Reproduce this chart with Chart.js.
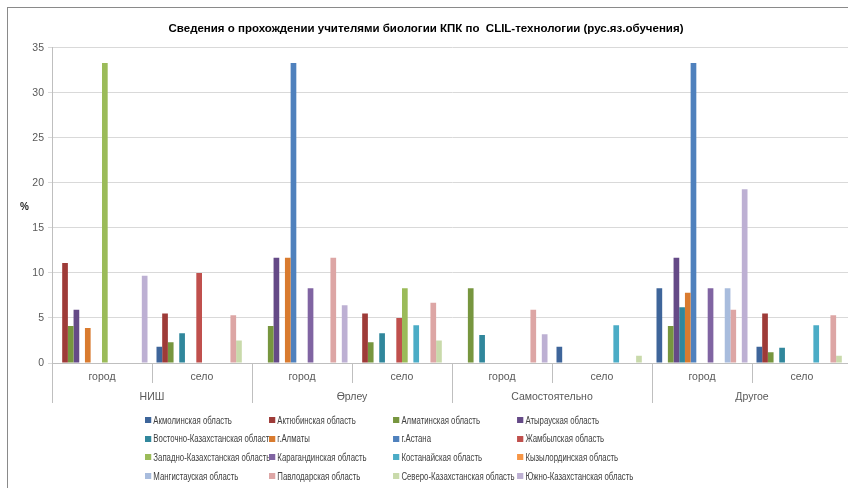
<!DOCTYPE html>
<html lang="ru">
  <head>
    <meta charset="UTF-8" />
    <title>CLIL-технологии</title>
    <script src="https://cdn.jsdelivr.net/npm/chart.js"></script>
    <style>
      body {
        margin: 0;
        width: 848px;
        height: 488px;
        overflow: hidden;
        background: #fff;
        position: relative;
        font-family: "Liberation Sans", sans-serif;
      }
      #frame {
        position: absolute;
        left: 7px;
        top: 7px;
        width: 900px;
        height: 600px;
        border-left: 1px solid #8a8a8a;
        border-top: 1px solid #8a8a8a;
      }
      #chart {
        position: absolute;
        left: 0;
        top: 0;
      }
      #ylabel {
        position: absolute;
        left: 20px;
        top: 201px;
        font-size: 10px;
        font-weight: bold;
        color: #262626;
      }
      /* узкий шрифт имитируем сжатием по горизонтали */
      #legend {
        position: absolute;
        left: 145px;
        top: 411px;
        display: grid;
        grid-template-columns: 159px 159px 159px 159px;
        grid-auto-rows: 18.6px;
        font-size: 10px;
        color: #404040;
        transform: scaleX(0.78);
        transform-origin: left top;
      }
      #legend div {
        display: flex;
        align-items: center;
        white-space: nowrap;
      }
      #legend span {
        flex-shrink: 0;
        display: inline-block;
        width: 7.7px;
        height: 6px;
        margin-right: 3px;
      }
    </style>
  </head>
  <body>
    <div id="frame"></div>
    <canvas id="chart" width="852" height="488"></canvas>
    <div id="ylabel">%</div>
    <div id="legend"></div>

    <script>
      const categories = ["город", "село", "город", "село", "город", "село", "город", "село"];
      const groups = ["НИШ", "Өрлеу", "Самостоятельно", "Другое"];

      const regions = [
        "Акмолинская область",
        "Актюбинская область",
        "Алматинская область",
        "Атырауская область",
        "Восточно-Казахстанская область",
        "г.Алматы",
        "г.Астана",
        "Жамбылская область",
        "Западно-Казахстанская область",
        "Карагандинская область",
        "Костанайская область",
        "Кызылординская область",
        "Мангистауская область",
        "Павлодарская область",
        "Северо-Казахстанская область",
        "Южно-Казахстанская область",
      ];

      const colors = [
        "#3E659A", "#9E3B38", "#77963F", "#654A87",
        "#31879C", "#D97B2F", "#4F81BD", "#C0504D",
        "#9BBB59", "#8064A2", "#4BACC6", "#F79646",
        "#A8BCDD", "#DDA6A5", "#C9DAAB", "#BDB0D3",
      ];

      // % по каждой области: НИШ, Өрлеу, Самостоятельно, Другое (город / село)
      const akmola = [0, 1.8, 0, 0, 0, 1.8, 8.3, 1.8];
      const aktobe = [11.1, 5.5, 0, 5.5, 0, 0, 0, 5.5];
      const almatyObl = [4.1, 2.3, 4.1, 2.3, 8.3, 0, 4.1, 1.2];
      const atyrau = [5.9, 0, 11.7, 0, 0, 0, 11.7, 0];
      const vko = [0, 3.3, 0, 3.3, 3.1, 0, 6.2, 1.7];
      const almatyCity = [3.9, 0, 11.7, 0, 0, 0, 7.8, 0];
      const astana = [0, 0, 33.3, 0, 0, 0, 33.3, 0];
      const zhambyl = [0, 10, 0, 5, 0, 0, 0, 0];
      const zko = [33.3, 0, 0, 8.3, 0, 0, 0, 0];
      const karaganda = [0, 0, 8.3, 0, 0, 0, 8.3, 0];
      const kostanay = [0, 0, 0, 4.2, 0, 4.2, 0, 4.2];
      const kyzylorda = [0, 0, 0, 0, 0, 0, 0, 0];
      const mangystau = [0, 0, 0, 0, 0, 0, 8.3, 0];
      const pavlodar = [0, 5.3, 11.7, 6.7, 5.9, 0, 5.9, 5.3];
      const sko = [0, 2.5, 0, 2.5, 0, 0.8, 0, 0.8];
      const yuko = [9.7, 0, 6.4, 0, 3.2, 0, 19.3, 0];

      const values = [
        akmola, aktobe, almatyObl, atyrau, vko, almatyCity, astana, zhambyl,
        zko, karaganda, kostanay, kyzylorda, mangystau, pavlodar, sko, yuko,
      ];

      const yTicks = [0, 5, 10, 15, 20, 25, 30, 35];

      Chart.defaults.font.family = "'Liberation Sans', sans-serif";
      Chart.defaults.color = "#595959";

      const datasets = regions.map((name, i) => ({
        label: name,
        data: values[i],
        backgroundColor: colors[i],
        borderWidth: 0,
        barPercentage: 1,
        categoryPercentage: 0.91,
      }));

      // вертикальные разделители между подписями категорий и групп
      const separators = {
        id: "separators",
        afterDraw(chart) {
          const x = chart.scales.x;
          const area = chart.chartArea;
          const ctx = chart.ctx;
          const n = categories.length;
          const step = (area.right - area.left) / n;
          ctx.save();
          ctx.strokeStyle = "#BFBFBF";
          ctx.lineWidth = 1;
          for (let i = 0; i <= n; i++) {
            const px = Math.round(x.left + i * step) + 0.5;
            const len = i % 2 === 0 ? 40 : 20;
            ctx.beginPath();
            ctx.moveTo(px, area.bottom);
            ctx.lineTo(px, area.bottom + len);
            ctx.stroke();
          }
          ctx.restore();
        },
      };

      new Chart(document.getElementById("chart"), {
        type: "bar",
        data: { labels: categories, datasets: datasets },
        plugins: [separators],
        options: {
          responsive: false,
          animation: false,
          layout: { padding: { left: 0, right: 0, top: 0, bottom: 81 } },
          plugins: {
            legend: { display: false },
            tooltip: { enabled: false },
            title: {
              display: true,
              text: "Сведения о прохождении учителями биологии КПК по  CLIL-технологии (рус.яз.обучения)",
              color: "#000",
              font: { size: 11.5, weight: "bold" },
              padding: { top: 22, bottom: 12 },
            },
          },
          scales: {
            x: {
              offset: true,
              grid: { drawOnChartArea: false, drawTicks: false },
              border: { color: "#BFBFBF" },
              ticks: { padding: 8, maxRotation: 0, autoSkip: false, font: { size: 10.5 } },
              afterFit: (axis) => {
                axis.height = 20;
              },
            },
            x2: {
              type: "category",
              labels: groups,
              position: "bottom",
              offset: true,
              grid: { drawOnChartArea: false, drawTicks: false },
              border: { display: false },
              ticks: { padding: 8, maxRotation: 0, autoSkip: false, font: { size: 10.5 } },
              afterFit: (axis) => {
                axis.height = 24;
              },
            },
            y: {
              min: 0,
              max: 35,
              afterBuildTicks: (axis) => {
                axis.ticks = yTicks.map((v) => ({ value: v }));
              },
              // место слева под подпись «%»
              afterFit: (axis) => {
                axis.width = 52;
              },
              grid: { color: "#D9D9D9", tickLength: 4 },
              border: { color: "#BFBFBF" },
              ticks: { padding: 4, font: { size: 10.5 } },
            },
          },
        },
      });

      // легенда в четыре столбца
      const legend = document.getElementById("legend");
      regions.forEach((name, i) => {
        const item = document.createElement("div");
        const box = document.createElement("span");
        box.style.background = colors[i];
        item.appendChild(box);
        item.appendChild(document.createTextNode(name));
        legend.appendChild(item);
      });
    </script>
  </body>
</html>
